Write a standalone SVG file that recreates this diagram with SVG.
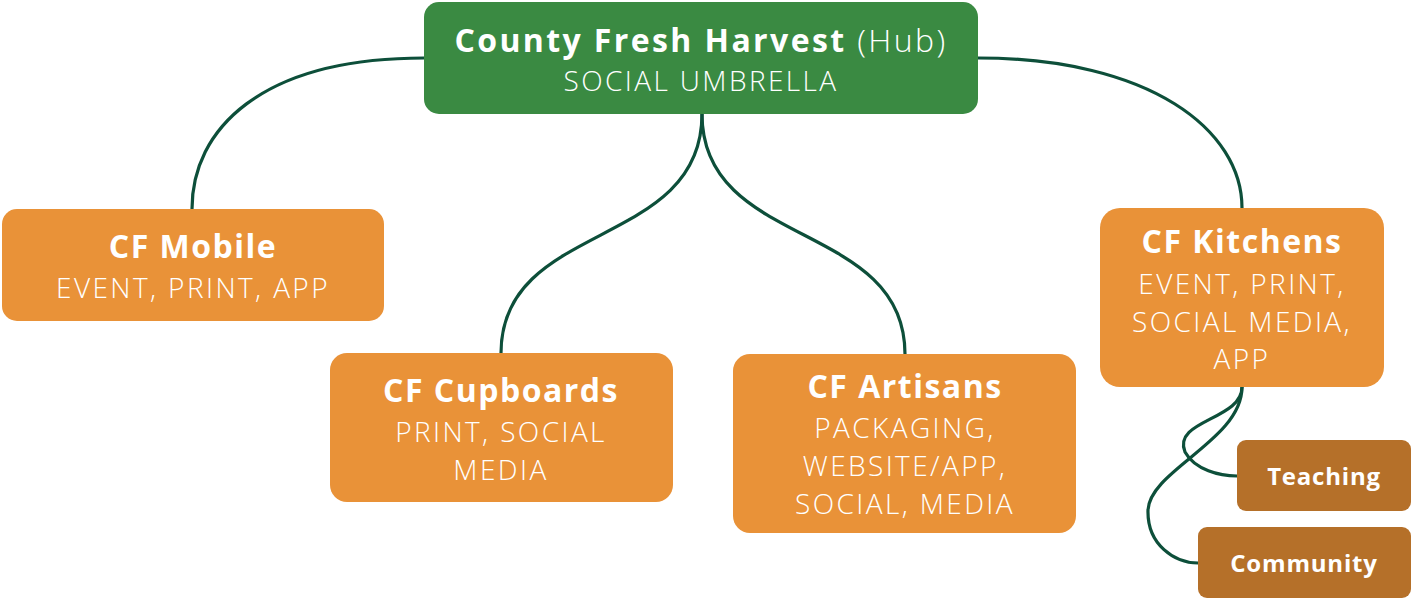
<svg xmlns="http://www.w3.org/2000/svg" width="1412" height="599" viewBox="0 0 1412 599">
<style>
.c{fill:none;stroke:#0d4f3a;stroke-width:3.2;stroke-linecap:round}
.hub{fill:#3a8a42}
.o{fill:#e99238}
.b{fill:#b57029}
text{font-family:"Open Sans","Noto Sans","Liberation Sans",sans-serif;fill:#fff;text-anchor:middle}
.t{font-weight:700;font-size:32px;letter-spacing:1.5px}
.s{font-weight:300;font-size:28px;letter-spacing:2.4px}
.l{font-weight:700;font-size:24px;letter-spacing:0.8px}
</style>
<rect width="1412" height="599" fill="#fff"/>
<g id="connectors">
<path class="c" d="M424,58 C260,58 192,130 192,209"/>
<path class="c" d="M978,58 C1150,58 1242,130 1242,208"/>
<path class="c" d="M702,114 C702,250 501,220 501,353"/>
<path class="c" d="M702,114 C702,250 905,220 905,354"/>
<path class="c" d="M1242,387 C1242,420 1172,420 1185,452 C1195,470 1220,476 1237,476"/>
<path class="c" d="M1242,387 C1242,440 1150,470 1148,510 C1147,545 1175,563 1198,563"/>
</g>
<g id="hub">
<rect class="hub" x="424" y="2" width="554" height="112" rx="15"/>
<text x="701" y="52" class="t" style="letter-spacing:2.4px"><tspan>County Fresh Harvest</tspan><tspan font-weight="300"> (Hub)</tspan></text>
<text x="701" y="91" class="s">SOCIAL UMBRELLA</text>
</g>
<g id="mobile">
<rect class="o" x="2" y="209" width="382" height="112" rx="15"/>
<text x="193" y="258" class="t">CF Mobile</text>
<text x="193" y="298" class="s">EVENT, PRINT, APP</text>
</g>
<g id="cupboards">
<rect class="o" x="330" y="353" width="343" height="149" rx="17"/>
<text x="501" y="402" class="t">CF Cupboards</text>
<text x="501" y="442" class="s">PRINT, SOCIAL</text>
<text x="501" y="480" class="s">MEDIA</text>
</g>
<g id="artisans">
<rect class="o" x="733" y="354" width="343" height="179" rx="17"/>
<text x="905" y="398" class="t">CF Artisans</text>
<text x="905" y="438" class="s">PACKAGING,</text>
<text x="905" y="476" class="s">WEBSITE/APP,</text>
<text x="905" y="514" class="s">SOCIAL, MEDIA</text>
</g>
<g id="kitchens">
<rect class="o" x="1100" y="208" width="284" height="179" rx="20"/>
<text x="1242" y="253" class="t">CF Kitchens</text>
<text x="1242" y="294" class="s">EVENT, PRINT,</text>
<text x="1242" y="332" class="s">SOCIAL MEDIA,</text>
<text x="1242" y="369" class="s">APP</text>
</g>
<g id="teaching">
<rect class="b" x="1237" y="440" width="174" height="71" rx="9"/>
<text x="1324" y="485" class="l">Teaching</text>
</g>
<g id="community">
<rect class="b" x="1198" y="527" width="213" height="71" rx="9"/>
<text x="1304" y="572" class="l">Community</text>
</g>
</svg>
